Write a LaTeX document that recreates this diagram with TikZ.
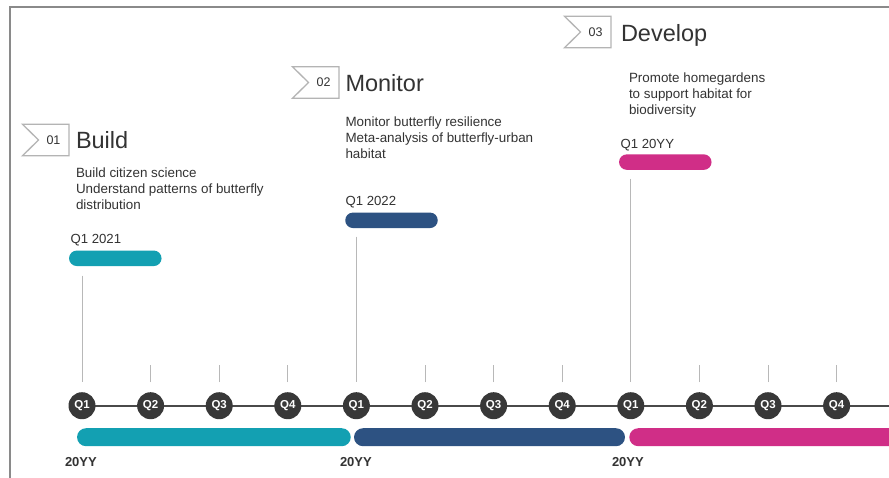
\documentclass[tikz,border=0pt]{standalone}
\usepackage{fontspec}
\setmainfont{Liberation Sans}
\definecolor{ink}{HTML}{333333}
\definecolor{framegray}{HTML}{8A8A8A}
\definecolor{flaggray}{HTML}{B4B4B4}
\definecolor{tickgray}{HTML}{B8B8B8}
\definecolor{dotgray}{HTML}{383838}
\definecolor{axisgray}{HTML}{4A4A4A}
\definecolor{phaseteal}{HTML}{13A0B2}
\definecolor{phaseblue}{HTML}{2D5282}
\definecolor{phasepink}{HTML}{D02E87}
\begin{document}
\begin{tikzpicture}[x=1pt,y=-1pt,
  every node/.style={inner sep=0pt, outer sep=0pt, text=ink},
  heading/.style={anchor=base west, font=\fontsize{23.5}{27}\selectfont},
  desc/.style={anchor=north west, align=left, font=\fontsize{13.4}{16}\selectfont},
  qlabel/.style={anchor=base west, font=\fontsize{13.2}{16}\selectfont},
  flagnum/.style={font=\fontsize{12.5}{14}\selectfont},
  flagline/.style={draw=flaggray, line width=1.3pt, fill=white, line join=miter},
  startbar/.style={rounded corners=7.75pt, minimum width=92.5pt, minimum height=15.5pt},
  phasebar/.style={rounded corners=9pt, minimum height=18pt},
  qdot/.style={circle, fill=dotgray, minimum size=27pt, text=white,
    font=\fontsize{11.5}{12}\selectfont\bfseries},
  tick/.style={draw=tickgray, line width=0.9pt},
  axis/.style={draw=axisgray, line width=1.8pt},
  year/.style={anchor=base west, font=\fontsize{13}{15}\selectfont\bfseries},
]
\useasboundingbox (0,0) rectangle (889,477);
\fill[white] (0,0) rectangle (889,477);

% outer frame, open to the right and bottom
\draw[framegray, line width=1.5pt] (10,485) -- (10,7) -- (895,7);

% quarter axis
\coordinate (axisL) at (82,405.7);
\coordinate (axisR) at (895,405.7);
\draw[axis] (axisL) -- (axisR);
\foreach \i in {0,...,11}{
  \pgfmathtruncatemacro\qn{mod(\i,4)+1}
  \node[qdot] (q\i) at ({82+68.6*\i},405.7) {Q\qn};
}
\foreach \i in {1,2,3,5,6,7,9,10,11}{
  \draw[tick] ([yshift=10pt]q\i.north) -- ++(0,-17);
}

% phase bars along the axis
\node[phasebar, fill=phaseteal, minimum width=273.7pt] (b1) at (213.9,437.2) {};
\node[phasebar, fill=phaseblue, minimum width=271pt]   (b2) at (489.5,437.2) {};
\node[phasebar, fill=phasepink, minimum width=272pt]   (b3) at (765.3,437.2) {};
\node[year] (y1) at (65,466)  {20YY};
\node[year] (y2) at (340,466) {20YY};
\node[year] (y3) at (612,466) {20YY};

% phase start markers
\node[startbar, fill=phaseteal] (s1) at (115.3,258.3) {};
\node[startbar, fill=phaseblue] (s2) at (391.5,220.3) {};
\node[startbar, fill=phasepink] (s3) at (665.3,162.1) {};
\node[qlabel] (l1) at (70.5,243) {Q1 2021};
\node[qlabel] (l2) at (345.5,205) {Q1 2022};
\node[qlabel] (l3) at (620.5,148) {Q1 20YY};
\draw[tick, shorten <=9.5pt, shorten >=10pt] (s1.south -| q0) -- (q0.north);
\draw[tick, shorten <=8.5pt, shorten >=10pt] (s2.south -| q4) -- (q4.north);
\draw[tick, shorten <=9pt,   shorten >=10pt] (s3.south -| q8) -- (q8.north);

% numbered flags
\foreach \n/\x/\y in {01/53.5/140, 02/323.5/82.5, 03/595.5/32}{
  \draw[flagline] (\x-31,\y-15.75) -- (\x+15.5,\y-15.75) -- (\x+15.5,\y+15.75)
    -- (\x-31,\y+15.75) -- (\x-15,\y) -- cycle;
  \node[flagnum] (f\n) at (\x,\y) {\n};
}

% phase headings and descriptions
\node[heading] (h1) at (76,148)    {Build};
\node[heading] (h2) at (345.5,91)  {Monitor};
\node[heading] (h3) at (621,41)    {Develop};
\node[desc] (d1) at (76,167.5)  {Build citizen science\\Understand patterns of butterfly\\distribution};
\node[desc] (d2) at (345.5,116.5) {Monitor butterfly resilience\\Meta-analysis of butterfly-urban\\habitat};
\node[desc] (d3) at (629,72.5)  {Promote homegardens\\to support habitat for\\biodiversity};
\end{tikzpicture}
\end{document}
